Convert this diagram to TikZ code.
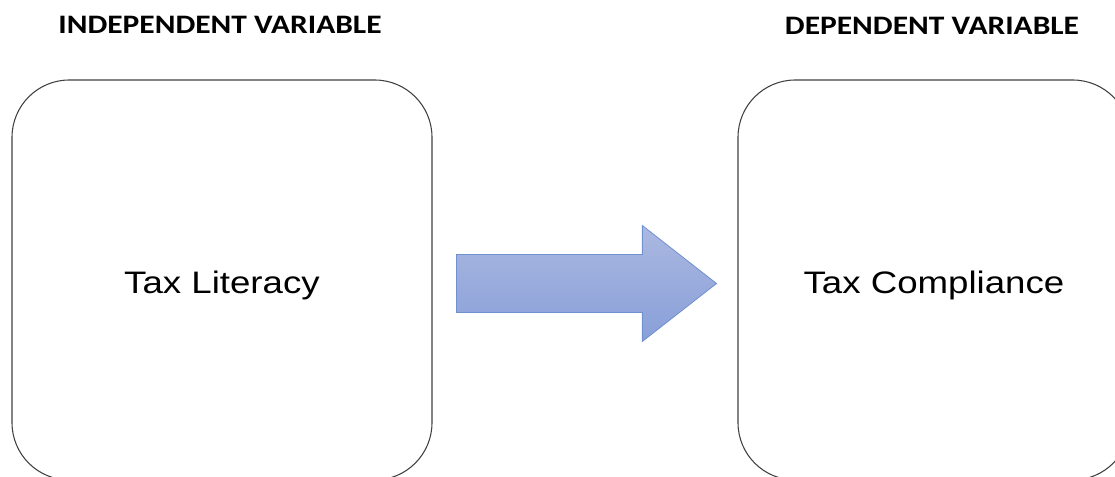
\documentclass[tikz,border=0pt]{standalone}
\usepackage{fontspec}
\usepackage{graphicx}
\usetikzlibrary{shapes.arrows, positioning}
\newfontfamily\headfont{Carlito}
\newfontfamily\bodyfont{Liberation Sans}
\definecolor{boxline}{RGB}{64, 64, 64}
\definecolor{arrowtop}{RGB}{171, 184, 225}
\definecolor{arrowbottom}{RGB}{136, 159, 216}
\definecolor{arrowedge}{RGB}{112, 144, 207}
\newcommand{\widetext}[1]{\scalebox{1.18}[1]{#1}}
\tikzset{
  varbox/.style={rectangle, draw=boxline, line width=0.8pt, rounded corners=43pt, minimum height=300pt},
  headlabel/.style={font=\headfont\bfseries\fontsize{20}{24}\selectfont, inner sep=0pt},
  boxlabel/.style={font=\bodyfont\fontsize{23.3}{28}\selectfont, inner sep=0pt},
  flowblock/.style={single arrow, draw=arrowedge, line width=0.6pt, top color=arrowtop, bottom color=arrowbottom,
    text height=0pt, text depth=0pt, inner xsep=0pt, inner ysep=21.4pt, single arrow head extend=21.75pt,
    single arrow tip angle=76, minimum height=195pt}
}
\begin{document}
\begin{tikzpicture}[x=0.75pt, y=-0.75pt]
    \useasboundingbox (0, 0) rectangle (1115, 477);

    % the two variables
    \node[varbox, minimum width=315pt] (literacy) at (222, 280) {};
    \node[varbox, minimum width=294pt] (compliance) at (934, 280) {};

    \node[boxlabel] at ([yshift=-4pt]literacy.center) {\widetext{Tax Literacy}};
    \node[boxlabel] at ([yshift=-4pt]compliance.center) {\widetext{Tax Compliance}};

    % headings
    \node[headlabel] (indep) at (220, 25) {\widetext{INDEPENDENT VARIABLE}};
    \node[headlabel] (dep) at (932, 26) {\widetext{DEPENDENT VARIABLE}};

    % block arrow in between
    \node[flowblock] (effect) at (568, 283.5) {};
\end{tikzpicture}
\end{document}
